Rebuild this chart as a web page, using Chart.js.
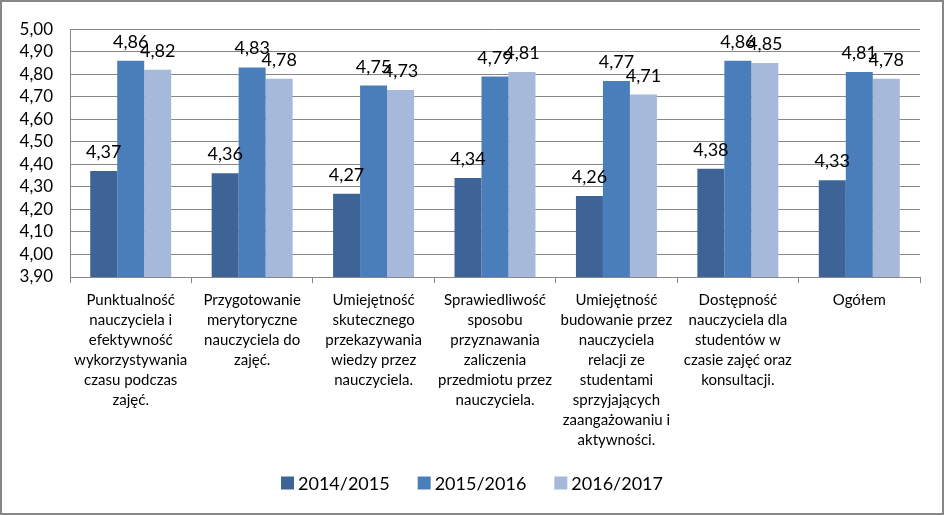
<!DOCTYPE html>
<html>
<head>
<meta charset="utf-8">
<script src="https://cdn.jsdelivr.net/npm/chart.js@4"></script>
<style>
  html, body { margin: 0; padding: 0; background: #fff; }
  #frame { width: 944px; height: 515px; box-sizing: border-box; border: 2px solid #878787; position: relative; }
  #frame canvas { display: block; }
</style>
</head>
<body>
<div id="frame"><canvas id="chart" width="940" height="511"></canvas></div>
<script>
/* categories, series and axis settings */
const CATEGORIES = [
  ["Punktualność", "nauczyciela i", "efektywność", "wykorzystywania", "czasu podczas", "zajęć."],
  ["Przygotowanie", "merytoryczne", "nauczyciela do", "zajęć."],
  ["Umiejętność", "skutecznego", "przekazywania", "wiedzy przez", "nauczyciela."],
  ["Sprawiedliwość", "sposobu", "przyznawania", "zaliczenia", "przedmiotu przez", "nauczyciela."],
  ["Umiejętność", "budowanie przez", "nauczyciela", "relacji ze", "studentami", "sprzyjających", "zaangażowaniu i", "aktywności."],
  ["Dostępność", "nauczyciela dla", "studentów w", "czasie zajęć oraz", "konsultacji."],
  ["Ogółem"],
];
const SERIES = ["2014/2015", "2015/2016", "2016/2017"];
const Y2014 = [4.37, 4.36, 4.27, 4.34, 4.26, 4.38, 4.33];
const Y2015 = [4.86, 4.83, 4.75, 4.79, 4.77, 4.86, 4.81];
const Y2016 = [4.82, 4.78, 4.73, 4.81, 4.71, 4.85, 4.78];
const Y_MIN = 3.9, Y_MAX = 5.0, Y_STEP = 0.1;

const COLORS = ["#3E6497", "#4A7EBB", "#A7B9DA"];
const FONT = "Lato, 'Open Sans', sans-serif";
const GRID = "#878787";

const fmt = (v) => v.toFixed(2).replace(".", ",");

/* ---------- value labels above bars ---------- */
const valueLabels = {
  id: "valueLabels",
  afterDatasetsDraw(chart) {
    const ctx = chart.ctx;
    ctx.save();
    ctx.font = "18px " + FONT;
    ctx.fillStyle = "#000";
    ctx.textAlign = "center";
    ctx.textBaseline = "alphabetic";
    chart.data.datasets.forEach((ds, i) => {
      chart.getDatasetMeta(i).data.forEach((bar, j) => {
        ctx.fillText(fmt(ds.data[j]), bar.x, bar.y - 13);
      });
    });
    ctx.restore();
  },
};

/* ---------- legend drawn under the axis ---------- */
const bottomLegend = {
  id: "bottomLegend",
  afterDraw(chart) {
    const ctx = chart.ctx;
    const box = 13, gapText = 4, gapItem = 28, cy = 481;
    ctx.save();
    ctx.font = "18px " + FONT;
    ctx.textBaseline = "middle";
    ctx.textAlign = "left";
    const widths = chart.data.datasets.map((d) => box + gapText + ctx.measureText(d.label).width);
    const total = widths.reduce((a, b) => a + b, 0) + gapItem * (widths.length - 1);
    let x = (chart.width - total) / 2;
    chart.data.datasets.forEach((d, i) => {
      ctx.fillStyle = d.backgroundColor;
      ctx.fillRect(x, cy - box / 2, box, box);
      ctx.fillStyle = "#000";
      ctx.fillText(d.label, x + box + gapText, cy + 1);
      x += widths[i] + gapItem;
    });
    ctx.restore();
  },
};

new Chart(document.getElementById("chart"), {
  type: "bar",
  data: {
    labels: CATEGORIES,
    datasets: [Y2014, Y2015, Y2016].map((data, i) => ({
      label: SERIES[i],
      data,
      backgroundColor: COLORS[i],
      borderWidth: 0,
      categoryPercentage: 0.667,
      barPercentage: 1,
    })),
  },
  options: {
    responsive: false,
    animation: false,
    layout: { padding: { left: 0, top: 22, right: 22, bottom: 0 } },
    plugins: { legend: { display: false }, tooltip: { enabled: false } },
    scales: {
      x: {
        grid: { drawOnChartArea: false, drawTicks: true, tickLength: 6, color: GRID, offset: true },
        border: { display: true, color: GRID },
        ticks: {
          autoSkip: false, maxRotation: 0, minRotation: 0, padding: 7,
          color: "#000", font: { family: FONT, size: 15, lineHeight: "20px" },
        },
        afterFit(s) { s.height = 511 - 275; },
      },
      y: {
        min: Y_MIN, max: Y_MAX,
        grid: { color: GRID, drawTicks: false },
        border: { display: true, color: GRID },
        ticks: {
          stepSize: Y_STEP, autoSkip: false, padding: 17, color: "#000",
          font: { family: FONT, size: 17 },
          callback: (v) => fmt(v),
        },
        afterFit(s) { s.width = 68; },
      },
    },
  },
  plugins: [valueLabels, bottomLegend],
});
</script>
</body>
</html>
